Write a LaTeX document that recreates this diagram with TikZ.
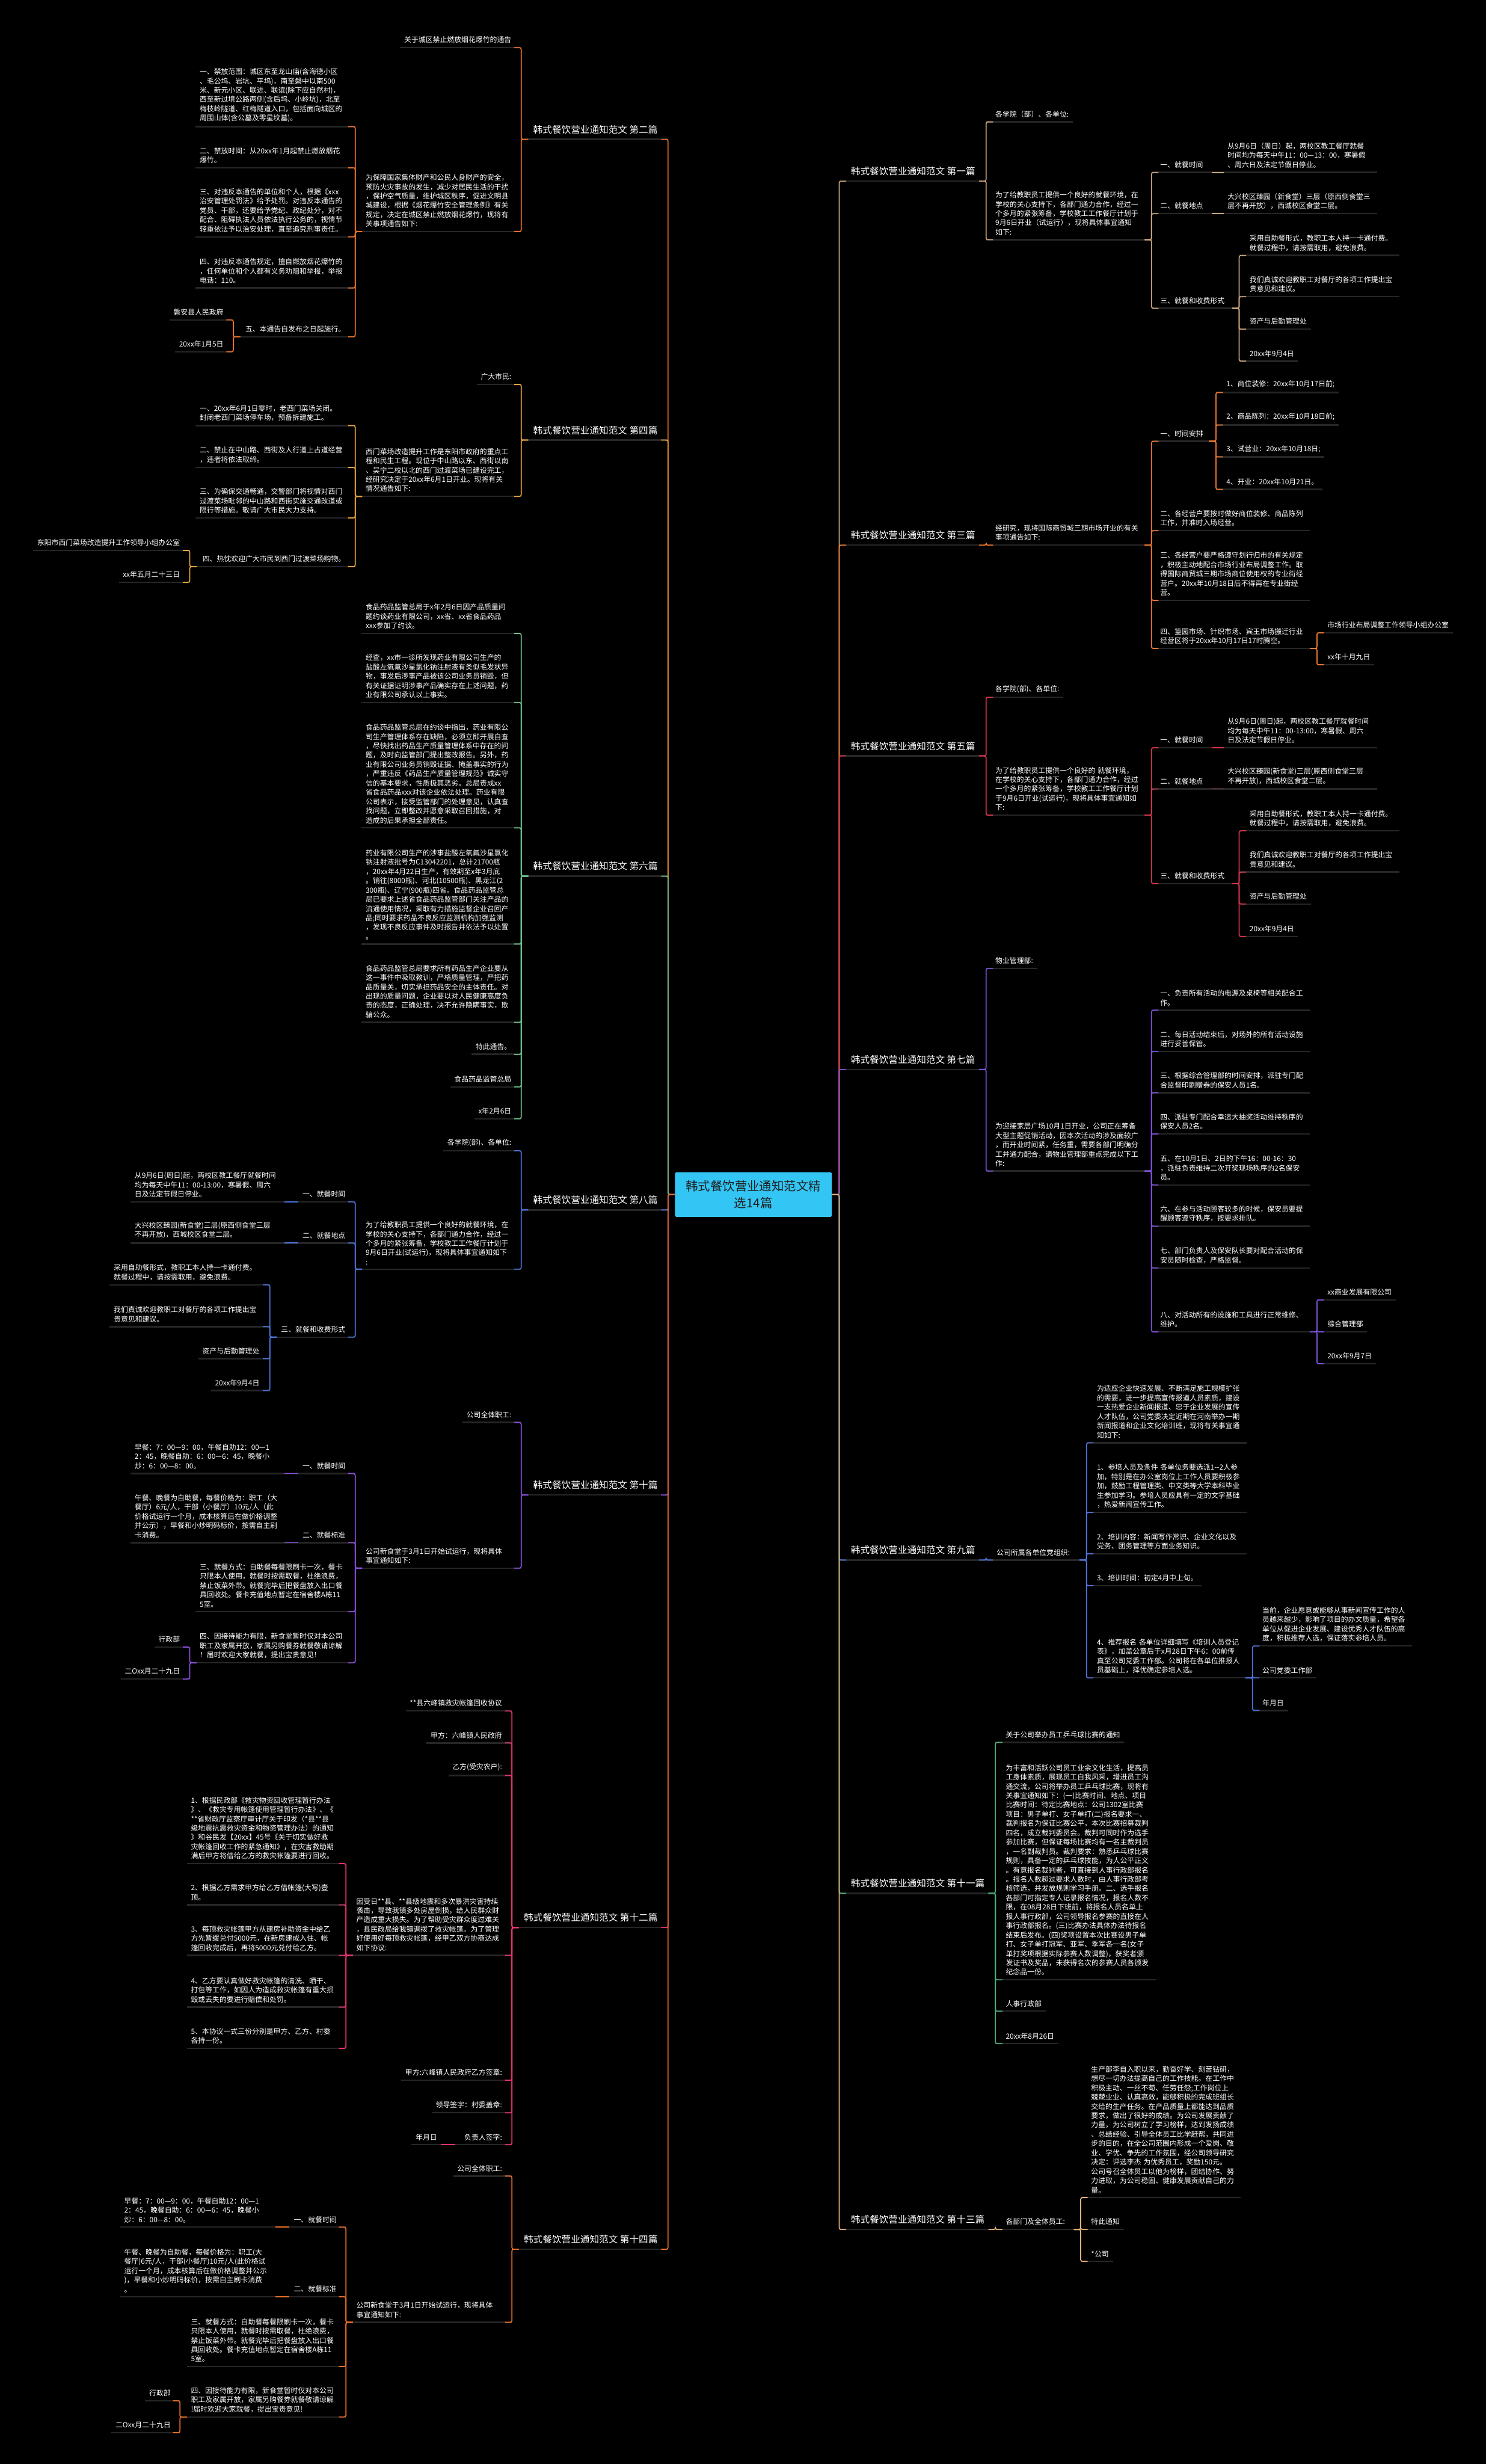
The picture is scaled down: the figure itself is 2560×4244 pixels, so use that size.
\documentclass[tikz,border=0pt]{standalone}
\usepackage{fontspec}
\setmainfont{Noto Sans CJK SC}
\usetikzlibrary{calc}
\definecolor{ulc}{HTML}{262626}
\definecolor{cyanc}{HTML}{33C6F4}
\definecolor{ctrtext}{HTML}{1E1E1E}
\definecolor{c1}{HTML}{C9A57C}
\definecolor{c2}{HTML}{E8702A}
\definecolor{c3}{HTML}{E8762E}
\definecolor{c4}{HTML}{E6A23C}
\definecolor{c5}{HTML}{D6344A}
\definecolor{c6}{HTML}{6CC08A}
\definecolor{c7}{HTML}{7B52D6}
\definecolor{c8}{HTML}{4A72D9}
\definecolor{c9}{HTML}{4F74D9}
\definecolor{c10}{HTML}{8C4FE0}
\definecolor{c11}{HTML}{4FB07A}
\definecolor{c12}{HTML}{E8336F}
\definecolor{c13}{HTML}{E3B27A}
\definecolor{c14}{HTML}{E8702A}
\newcommand\fsz{\fontsize{6.15pt}{8pt}\selectfont}
\newcommand\ftt{\fontsize{8.1pt}{10pt}\selectfont}
\newcommand\fcn{\fontsize{10.6pt}{14.5pt}\selectfont}
\tikzset{
  x=0.5pt, y=-0.5pt,
  txt/.style={inner sep=0pt, outer sep=0pt, text=white, font=\fsz, align=left},
  wide/.style={txt, text width=125.5pt},
  ttl/.style={inner sep=0pt, outer sep=0pt, text=white, font=\ftt, yshift=1pt},
  ul/.style={draw=ulc, line width=1.25pt},
  conn/.style={line width=0.9pt, rounded corners=1.5pt},
  ctrbox/.style={fill=cyanc, text=ctrtext, minimum width=135pt, minimum height=38.5pt,
     inner sep=0pt, align=center, font=\fcn, rounded corners=1pt}
}
% left leaf: name, anchor-x, uy, ulR, style, text
\newcommand\mLN[6]{%
  \node[#5,anchor=south east] (#1) at (#2,#3-7.5) {#6};
  \coordinate (#1-r) at (#4,#3);
  \coordinate (#1-t) at ($(#1.south west)+(-7,0)$);
  \coordinate (#1-l) at (#1-t |- #1-r);
  \draw[ul] (#1-l) -- (#1-r);}
% left parent: name, anchor-x, uy, ulL, ulR, style, text
\newcommand\mLP[7]{%
  \node[#6,anchor=south east] (#1) at (#2,#3-7.5) {#7};
  \coordinate (#1-l) at (#4,#3);
  \coordinate (#1-r) at (#5,#3);
  \draw[ul] (#1-l) -- (#1-r);}
% right leaf: name, anchor-x, uy, ulL, style, text
\newcommand\mRN[6]{%
  \node[#5,anchor=south west] (#1) at (#2,#3-7.5) {#6};
  \coordinate (#1-l) at (#4,#3);
  \coordinate (#1-t) at ($(#1.south east)+(7,0)$);
  \coordinate (#1-r) at (#1-t |- #1-l);
  \draw[ul] (#1-l) -- (#1-r);}
% right parent: name, anchor-x, uy, ulL, ulR, style, text
\newcommand\mRP[7]{%
  \node[#6,anchor=south west] (#1) at (#2,#3-7.5) {#7};
  \coordinate (#1-l) at (#4,#3);
  \coordinate (#1-r) at (#5,#3);
  \draw[ul] (#1-l) -- (#1-r);}
\newcommand\mLk[3]{\draw[conn,#1] ([xshift=6pt]#2-l) -- (#2-l) |- ([xshift=-6pt]#3-r);}
\newcommand\mRk[3]{\draw[conn,#1] ([xshift=-6pt]#2-r) -- (#2-r) |- ([xshift=6pt]#3-l);}
\newcommand\mLs[3]{\draw[conn,#1] (#2-l) -- (#3-r);}
\newcommand\mRs[3]{\draw[conn,#1] (#2-r) -- (#3-l);}
\begin{document}
\begin{tikzpicture}
\fill[black] (0,0) rectangle (2560,4244);
\useasboundingbox (0,0) rectangle (2560,4244);

\node[ctrbox] (ctr) at (1298,2057.5) {韩式餐饮营业通知范文精\\选14篇};

% ===================== LEFT =====================
% 第二篇
\mLP{L2}{1133}{240}{898}{1151}{ttl}{韩式餐饮营业通知范文 第二篇}
\mLN{L2a}{881}{82}{898}{txt}{关于城区禁止燃放烟花爆竹的通告}
\mLP{L2b}{881}{399}{612}{898}{wide}{为保障国家集体财产和公民人身财产的安全，\\预防火灾事故的发生，减少对居民生活的干扰\\，保护空气质量，维护城区秩序，促进文明县\\城建设，根据《烟花爆竹安全管理条例》有关\\规定，决定在城区禁止燃放烟花爆竹，现将有\\关事项通告如下:}
\mLN{L2b1}{595}{218}{612}{wide}{一、禁放范围：城区东至龙山庙(含海德小区\\、毛公坞、岩坑、平坞)，南至磐中以南500\\米、新元小区、联进、联谊(除下应自然村)，\\西至新过境公路两侧(含后坞、小岭坑)，北至\\梅枝岭隧道、红梅隧道入口，包括面向城区的\\周围山体(含公墓及零星坟墓)。}
\mLN{L2b2}{595}{289}{612}{wide}{二、禁放时间：从20xx年1月起禁止燃放烟花\\爆竹。}
\mLN{L2b3}{595}{408}{612}{wide}{三、对违反本通告的单位和个人，根据《xxx\\治安管理处罚法》给予处罚。对违反本通告的\\党员、干部，还要给予党纪、政纪处分，对不\\配合、阻碍执法人员依法执行公务的，视情节\\轻重依法予以治安处理，直至追究刑事责任。}
\mLN{L2b4}{595}{496}{612}{wide}{四、对违反本通告规定，擅自燃放烟花爆竹的\\，任何单位和个人都有义务劝阻和举报，举报\\电话：110。}
\mLP{L2b5}{595}{580}{402}{612}{txt}{五、本通告自发布之日起施行。}
\mLN{L2b5a}{385}{551}{402}{txt}{磐安县人民政府}
\mLN{L2b5b}{385}{606}{402}{txt}{20xx年1月5日}

% 第四篇
\mLP{L4}{1133}{758}{898}{1151}{ttl}{韩式餐饮营业通知范文 第四篇}
\mLN{L4a}{881}{662}{898}{txt}{广大市民:}
\mLP{L4b}{881}{855}{612}{898}{wide}{西门菜场改造提升工作是东阳市政府的重点工\\程和民生工程。现位于中山路以东、西街以南\\、吴宁二校以北的西门过渡菜场已建设完工，\\经研究决定于20xx年6月1日开业。现将有关\\情况通告如下:}
\mLN{L4b1}{595}{733}{612}{wide}{一、20xx年6月1日零时，老西门菜场关闭。\\封闭老西门菜场停车场，预备拆建施工。}
\mLN{L4b2}{595}{805}{612}{wide}{二、禁止在中山路、西街及人行道上占道经营\\，违者将依法取缔。}
\mLN{L4b3}{595}{892}{612}{wide}{三、为确保交通畅通，交警部门将视情对西门\\过渡菜场毗邻的中山路和西街实施交通改道或\\限行等措施。敬请广大市民大力支持。}
\mLP{L4b4}{595}{976}{327}{612}{txt}{四、热忱欢迎广大市民到西门过渡菜场购物。}
\mLN{L4b4a}{310}{948}{327}{txt}{东阳市西门菜场改造提升工作领导小组办公室}
\mLN{L4b4b}{310}{1003}{327}{txt}{xx年五月二十三日}

% 第六篇
\mLP{L6}{1133}{1509}{898}{1151}{ttl}{韩式餐饮营业通知范文 第六篇}
\mLN{L6a}{881}{1091}{898}{wide}{食品药品监管总局于x年2月6日因产品质量问\\题约谈药业有限公司，xx省、xx省食品药品\\xxx参加了约谈。}
\mLN{L6b}{881}{1210}{898}{wide}{经查，xx市一诊所发现药业有限公司生产的\\盐酸左氧氟沙星氯化钠注射液有类似毛发状异\\物，事发后涉事产品被该公司业务员销毁，但\\有关证据证明涉事产品确实存在上述问题，药\\业有限公司承认以上事实。}
\mLN{L6c}{881}{1426}{898}{wide}{食品药品监管总局在约谈中指出，药业有限公\\司生产管理体系存在缺陷，必须立即开展自查\\，尽快找出药品生产质量管理体系中存在的问\\题，及时向监管部门提出整改报告。另外，药\\业有限公司业务员销毁证据、掩盖事实的行为\\，严重违反《药品生产质量管理规范》诚实守\\信的基本要求，性质极其恶劣。总局责成xx\\省食品药品xxx对该企业依法处理。药业有限\\公司表示，接受监管部门的处理意见，认真查\\找问题，立即整改并愿意采取召回措施，对\\造成的后果承担全部责任。}
\mLN{L6d}{881}{1626}{898}{wide}{药业有限公司生产的涉事盐酸左氧氟沙星氯化\\钠注射液批号为C13042201，总计21700瓶\\，20xx年4月22日生产，有效期至x年3月底\\。销往(8000瓶)、河北(10500瓶)、黑龙江(2\\300瓶)、辽宁(900瓶)四省。食品药品监管总\\局已要求上述省食品药品监管部门关注产品的\\流通使用情况，采取有力措施监督企业召回产\\品;同时要求药品不良反应监测机构加强监测\\，发现不良反应事件及时报告并依法予以处置\\。}
\mLN{L6e}{881}{1761}{898}{wide}{食品药品监管总局要求所有药品生产企业要从\\这一事件中吸取教训，严格质量管理，严把药\\品质量关，切实承担药品安全的主体责任。对\\出现的质量问题，企业要以对人民健康高度负\\责的态度，正确处理，决不允许隐瞒事实，欺\\骗公众。}
\mLN{L6f}{881}{1816}{898}{txt}{特此通告。}
\mLN{L6g}{881}{1872}{898}{txt}{食品药品监管总局}
\mLN{L6h}{881}{1927}{898}{txt}{x年2月6日}

% 第八篇
\mLP{L8}{1133}{2084}{898}{1151}{ttl}{韩式餐饮营业通知范文 第八篇}
\mLN{L8a}{881}{1982}{898}{txt}{各学院(部)、各单位:}
\mLP{L8b}{881}{2186}{612}{898}{wide}{为了给教职员工提供一个良好的就餐环境，在\\学校的关心支持下，各部门通力合作，经过一\\个多月的紧张筹备，学校教工工作餐厅计划于\\9月6日开业(试运行)，现将具体事宜通知如下\\:}
\mLP{L8b1}{595}{2070}{490}{612}{txt}{一、就餐时间}
\mLN{L8b1a}{483}{2070}{514}{wide}{从9月6日(周日)起，两校区教工餐厅就餐时间\\均为每天中午11：00-13:00，寒暑假、周六\\日及法定节假日停业。}
\mLP{L8b2}{595}{2141}{490}{612}{txt}{二、就餐地点}
\mLN{L8b2a}{483}{2141}{514}{wide}{大兴校区臻园(新食堂)三层(原西侧食堂三层\\不再开放)，西城校区食堂二层。}
\mLP{L8b3}{595}{2303}{465}{612}{txt}{三、就餐和收费形式}
\mLN{L8b3a}{447}{2213}{465}{wide}{采用自助餐形式，教职工本人持一卡通付费。\\就餐过程中，请按需取用，避免浪费。}
\mLN{L8b3b}{447}{2285}{465}{wide}{我们真诚欢迎教职工对餐厅的各项工作提出宝\\贵意见和建议。}
\mLN{L8b3c}{447}{2340}{465}{txt}{资产与后勤管理处}
\mLN{L8b3d}{447}{2395}{465}{txt}{20xx年9月4日}

% 第十篇
\mLP{L10}{1133}{2575}{898}{1151}{ttl}{韩式餐饮营业通知范文 第十篇}
\mLN{L10a}{881}{2450}{898}{txt}{公司全体职工:}
\mLP{L10b}{881}{2701}{612}{898}{wide}{公司新食堂于3月1日开始试运行，现将具体\\事宜通知如下:}
\mLP{L10b1}{595}{2538}{490}{612}{txt}{一、就餐时间}
\mLN{L10b1a}{483}{2538}{514}{wide}{早餐：7：00—9：00，午餐自助12：00—1\\2：45，晚餐自助：6：00—6：45，晚餐小\\炒：6：00—8：00。}
\mLP{L10b2}{595}{2657}{490}{612}{txt}{二、就餐标准}
\mLN{L10b2a}{483}{2657}{514}{wide}{午餐、晚餐为自助餐，每餐价格为：职工（大\\餐厅）6元/人，干部（小餐厅）10元/人（此\\价格试运行一个月，成本核算后在做价格调整\\并公示），早餐和小炒明码标价，按需自主刷\\卡消费。}
\mLN{L10b3}{595}{2776}{612}{wide}{三、就餐方式：自助餐每餐限刷卡一次，餐卡\\只限本人使用，就餐时按需取餐，杜绝浪费，\\禁止饭菜外带。就餐完毕后把餐盘放入出口餐\\具回收处。餐卡充值地点暂定在宿舍楼A栋11\\5室。}
\mLP{L10b4}{595}{2864}{327}{612}{wide}{四、因接待能力有限，新食堂暂时仅对本公司\\职工及家属开放，家属另购餐券就餐敬请谅解\\！届时欢迎大家就餐，提出宝贵意见！}
\mLN{L10b4a}{310}{2837}{327}{txt}{行政部}
\mLN{L10b4b}{310}{2892}{327}{txt}{二Oxx月二十九日}

% 第十二篇
\mLP{L12}{1133}{3320}{882}{1151}{ttl}{韩式餐饮营业通知范文 第十二篇}
\mLN{L12a}{865}{2947}{882}{txt}{**县六峰镇救灾帐篷回收协议}
\mLN{L12b}{865}{3002}{882}{txt}{甲方：六峰镇人民政府}
\mLN{L12c}{865}{3058}{882}{txt}{乙方(受灾农户):}
\mLP{L12d}{865}{3368}{596}{882}{wide}{因受日**县、**县级地震和多次暴洪灾害持续\\袭击，导致我镇多处房屋倒损，给人民群众财\\产造成重大损失。为了帮助受灾群众度过难关\\，县民政局给我镇调拨了救灾帐篷。为了管理\\好使用好每顶救灾帐篷，经甲乙双方协商达成\\如下协议:}
\mLN{L12d1}{580}{3210}{596}{wide}{1、根据民政部《救灾物资回收管理暂行办法\\》、《救灾专用帐篷使用管理暂行办法》、《\\{}**省财政厅监察厅审计厅关于印发（*县**县\\级地震抗震救灾资金和物资管理办法）的通知\\》和谷民发【20xx】45号《关于切实做好救\\灾帐篷回收工作的紧急通知》，在灾害救助期\\满后甲方将借给乙方的救灾帐篷要进行回收。}
\mLN{L12d2}{580}{3281}{596}{wide}{2、根据乙方需求甲方给乙方借帐篷(大写)壹\\顶。}
\mLN{L12d3}{580}{3368}{596}{wide}{3、每顶救灾帐篷甲方从建房补助资金中给乙\\方先暂缓兑付5000元，在新房建成入住、帐\\篷回收完成后，再将5000元兑付给乙方。}
\mLN{L12d4}{580}{3457}{596}{wide}{4、乙方要认真做好救灾帐篷的清洗、晒干、\\打包等工作，如因人为造成救灾帐篷有重大损\\毁或丢失的要进行赔偿和处罚。}
\mLN{L12d5}{580}{3528}{596}{wide}{5、本协议一式三份分别是甲方、乙方、村委\\各持一份。}
\mLN{L12e}{865}{3583}{882}{txt}{甲方:六峰镇人民政府乙方签章:}
\mLN{L12f}{865}{3639}{882}{txt}{领导签字：村委盖章:}
\mLP{L12g}{865}{3694}{759}{882}{txt}{负责人签字:}
\mLN{L12g1}{753}{3694}{784}{txt}{年月日}

% 第十四篇
\mLP{L14}{1133}{3874}{882}{1151}{ttl}{韩式餐饮营业通知范文 第十四篇}
\mLN{L14a}{865}{3748}{882}{txt}{公司全体职工:}
\mLP{L14b}{865}{4000}{596}{882}{wide}{公司新食堂于3月1日开始试运行，现将具体\\事宜通知如下:}
\mLP{L14b1}{580}{3836}{475}{596}{txt}{一、就餐时间}
\mLN{L14b1a}{465}{3836}{498}{wide}{早餐：7：00—9：00，午餐自助12：00—1\\2：45，晚餐自助：6：00—6：45，晚餐小\\炒：6：00—8：00。}
\mLP{L14b2}{580}{3956}{475}{596}{txt}{二、就餐标准}
\mLN{L14b2a}{465}{3956}{498}{wide}{午餐、晚餐为自助餐，每餐价格为：职工(大\\餐厅)6元/人，干部(小餐厅)10元/人(此价格试\\运行一个月，成本核算后在做价格调整并公示\\)，早餐和小炒明码标价，按需自主刷卡消费\\。}
\mLN{L14b3}{580}{4076}{596}{wide}{三、就餐方式：自助餐每餐限刷卡一次，餐卡\\只限本人使用，就餐时按需取餐，杜绝浪费，\\禁止饭菜外带。就餐完毕后把餐盘放入出口餐\\具回收处。餐卡充值地点暂定在宿舍楼A栋11\\5室。}
\mLP{L14b4}{580}{4163}{310}{596}{wide}{四、因接待能力有限，新食堂暂时仅对本公司\\职工及家属开放，家属另购餐券就餐敬请谅解\\!届时欢迎大家就餐，提出宝贵意见!}
\mLN{L14b4a}{294}{4135}{310}{txt}{行政部}
\mLN{L14b4b}{294}{4190}{310}{txt}{二Oxx月二十九日}

% ===================== RIGHT =====================
% 第一篇
\mRP{R1}{1466}{312}{1446}{1699}{ttl}{韩式餐饮营业通知范文 第一篇}
\mRN{R1a}{1715}{210}{1699}{txt}{各学院（部）、各单位:}
\mRP{R1b}{1715}{413}{1699}{1984}{wide}{为了给教职员工提供一个良好的就餐环境，在\\学校的关心支持下，各部门通力合作，经过一\\个多月的紧张筹备，学校教工工作餐厅计划于\\9月6日开业（试运行），现将具体事宜通知\\如下:}
\mRP{R1b1}{1999}{297}{1984}{2109}{txt}{一、就餐时间}
\mRN{R1b1a}{2115}{297}{2088}{wide}{从9月6日（周日）起，两校区教工餐厅就餐\\时间均为每天中午11：00—13：00，寒暑假\\、周六日及法定节假日停业。}
\mRP{R1b2}{1999}{368}{1984}{2109}{txt}{二、就餐地点}
\mRN{R1b2a}{2115}{368}{2088}{wide}{大兴校区臻园（新食堂）三层（原西侧食堂三\\层不再开放），西城校区食堂二层。}
\mRP{R1b3}{1999}{531}{1984}{2135}{txt}{三、就餐和收费形式}
\mRN{R1b3a}{2153}{440}{2135}{wide}{采用自助餐形式，教职工本人持一卡通付费。\\就餐过程中，请按需取用，避免浪费。}
\mRN{R1b3b}{2153}{511}{2135}{wide}{我们真诚欢迎教职工对餐厅的各项工作提出宝\\贵意见和建议。}
\mRN{R1b3c}{2153}{567}{2135}{txt}{资产与后勤管理处}
\mRN{R1b3d}{2153}{622}{2135}{txt}{20xx年9月4日}

% 第三篇
\mRP{R3}{1466}{939}{1446}{1699}{ttl}{韩式餐饮营业通知范文 第三篇}
\mRP{R3a}{1715}{939}{1699}{1984}{wide}{经研究，现将国际商贸城三期市场开业的有关\\事项通告如下:}
\mRP{R3a1}{1999}{760}{1984}{2095}{txt}{一、时间安排}
\mRN{R3a1a}{2113}{676}{2095}{txt}{1、商位装修：20xx年10月17日前;}
\mRN{R3a1b}{2113}{732}{2095}{txt}{2、商品陈列：20xx年10月18日前;}
\mRN{R3a1c}{2113}{787}{2095}{txt}{3、试营业：20xx年10月18日;}
\mRN{R3a1d}{2113}{843}{2095}{txt}{4、开业：20xx年10月21日。}
\mRN{R3a2}{1999}{914}{1984}{wide}{二、各经营户要按时做好商位装修、商品陈列\\工作，并准时入场经营。}
\mRN{R3a3}{1999}{1034}{1984}{wide}{三、各经营户要严格遵守划行归市的有关规定\\，积极主动地配合市场行业布局调整工作。取\\得国际商贸城三期市场商位使用权的专业街经\\营户。20xx年10月18日后不得再在专业街经\\营。}
\mRP{R3a4}{1999}{1117}{1984}{2269}{wide}{四、篁园市场、针织市场、宾王市场搬迁行业\\经营区将于20xx年10月17日17时腾空。}
\mRN{R3a4a}{2287}{1090}{2269}{txt}{市场行业布局调整工作领导小组办公室}
\mRN{R3a4b}{2287}{1145}{2269}{txt}{xx年十月九日}

% 第五篇
\mRP{R5}{1466}{1302}{1446}{1699}{ttl}{韩式餐饮营业通知范文 第五篇}
\mRN{R5a}{1715}{1201}{1699}{txt}{各学院(部)、各单位:}
\mRP{R5b}{1715}{1404}{1699}{1984}{wide}{为了给教职员工提供一个良好的 就餐环境，\\在学校的关心支持下，各部门通力合作，经过\\一个多月的紧张筹备，学校教工工作餐厅计划\\于9月6日开业(试运行)，现将具体事宜通知如\\下:}
\mRP{R5b1}{1999}{1288}{1984}{2109}{txt}{一、就餐时间}
\mRN{R5b1a}{2115}{1288}{2088}{wide}{从9月6日(周日)起，两校区教工餐厅就餐时间\\均为每天中午11：00-13:00，寒暑假、周六\\日及法定节假日停业。}
\mRP{R5b2}{1999}{1359}{1984}{2109}{txt}{二、就餐地点}
\mRN{R5b2a}{2115}{1359}{2088}{wide}{大兴校区臻园(新食堂)三层(原西侧食堂三层\\不再开放)，西城校区食堂二层。}
\mRP{R5b3}{1999}{1522}{1984}{2135}{txt}{三、就餐和收费形式}
\mRN{R5b3a}{2153}{1431}{2135}{wide}{采用自助餐形式，教职工本人持一卡通付费。\\就餐过程中，请按需取用，避免浪费。}
\mRN{R5b3b}{2153}{1502}{2135}{wide}{我们真诚欢迎教职工对餐厅的各项工作提出宝\\贵意见和建议。}
\mRN{R5b3c}{2153}{1557}{2135}{txt}{资产与后勤管理处}
\mRN{R5b3d}{2153}{1613}{2135}{txt}{20xx年9月4日}

% 第七篇
\mRP{R7}{1466}{1842}{1446}{1699}{ttl}{韩式餐饮营业通知范文 第七篇}
\mRN{R7a}{1715}{1668}{1699}{txt}{物业管理部:}
\mRP{R7b}{1715}{2017}{1699}{1984}{wide}{为迎接家居广场10月1日开业，公司正在筹备\\大型主题促销活动，因本次活动的涉及面较广\\，而开业时间紧，任务重，需要各部门明确分\\工并通力配合，请物业管理部重点完成以下工\\作:}
\mRN{R7b1}{1999}{1740}{1984}{wide}{一、负责所有活动的电源及桌椅等相关配合工\\作。}
\mRN{R7b2}{1999}{1811}{1984}{wide}{二、每日活动结束后，对场外的所有活动设施\\进行妥善保管。}
\mRN{R7b3}{1999}{1882}{1984}{wide}{三、根据综合管理部的时间安排，派驻专门配\\合监督印刷赠券的保安人员1名。}
\mRN{R7b4}{1999}{1953}{1984}{wide}{四、派驻专门配合幸运大抽奖活动维持秩序的\\保安人员2名。}
\mRN{R7b5}{1999}{2041}{1984}{wide}{五、在10月1日、2日的下午16：00-16：30\\，派驻负责维持二次开奖现场秩序的2名保安\\员。}
\mRN{R7b6}{1999}{2112}{1984}{wide}{六、在参与活动顾客较多的时候，保安员要提\\醒顾客遵守秩序，按要求排队。}
\mRN{R7b7}{1999}{2184}{1984}{wide}{七、部门负责人及保安队长要对配合活动的保\\安员随时检查，严格监督。}
\mRP{R7b8}{1999}{2294}{1984}{2269}{wide}{八、对活动所有的设施和工具进行正常维修、\\维护。}
\mRN{R7b8a}{2287}{2239}{2269}{txt}{xx商业发展有限公司}
\mRN{R7b8b}{2287}{2294}{2269}{txt}{综合管理部}
\mRN{R7b8c}{2287}{2349}{2269}{txt}{20xx年9月7日}

% 第九篇
\mRP{R9}{1466}{2687}{1446}{1699}{ttl}{韩式餐饮营业通知范文 第九篇}
\mRP{R9a}{1717}{2687}{1699}{1872}{txt}{公司所属各单位党组织:}
\mRN{R9a1}{1890}{2485}{1872}{wide}{为适应企业快速发展、不断满足施工规模扩张\\的需要，进一步提高宣传报道人员素质，建设\\一支热爱企业新闻报道、忠于企业发展的宣传\\人才队伍，公司党委决定近期在河南举办一期\\新闻报道和企业文化培训班，现将有关事宜通\\知如下:}
\mRN{R9a2}{1890}{2605}{1872}{wide}{1、参培人员及条件 各单位务要选派1{-}{-}2人参\\加，特别是在办公室岗位上工作人员要积极参\\加，鼓励工程管理类、中文类等大学本科毕业\\生参加学习。参培人员应具有一定的文字基础\\，热爱新闻宣传工作。}
\mRN{R9a3}{1890}{2676}{1872}{wide}{2、培训内容：新闻写作常识、企业文化以及\\党务、团务管理等方面业务知识。}
\mRN{R9a4}{1890}{2731}{1872}{txt}{3、培训时间：初定4月中上旬。}
\mRP{R9a5}{1890}{2890}{1872}{2158}{wide}{4、推荐报名 各单位详细填写《培训人员登记\\表》，加盖公章后于x月28日下午6：00前传\\真至公司党委工作部。公司将在各单位推报人\\员基础上，择优确定参培人选。}
\mRN{R9a5a}{2175}{2835}{2158}{wide}{当前，企业愿意或能够从事新闻宣传工作的人\\员越来越少，影响了项目的办文质量，希望各\\单位从促进企业发展、建设优秀人才队伍的高\\度，积极推荐人选，保证落实参培人员。}
\mRN{R9a5b}{2175}{2890}{2158}{txt}{公司党委工作部}
\mRN{R9a5c}{2175}{2946}{2158}{txt}{年月日}

% 第十一篇
\mRP{R11}{1466}{3261}{1446}{1715}{ttl}{韩式餐饮营业通知范文 第十一篇}
\mRN{R11a}{1733}{3001}{1715}{txt}{关于公司举办员工乒乓球比赛的通知}
\mRN{R11b}{1733}{3410}{1715}{wide}{为丰富和活跃公司员工业余文化生活，提高员\\工身体素质，展现员工自我风采，增进员工沟\\通交流，公司将举办员工乒乓球比赛，现将有\\关事宜通知如下：(一)比赛时间、地点、项目\\比赛时间：待定比赛地点：公司1302室比赛\\项目：男子单打、女子单打(二)报名要求一、\\裁判报名为保证比赛公平，本次比赛招募裁判\\四名，成立裁判委员会。裁判可同时作为选手\\参加比赛，但保证每场比赛均有一名主裁判员\\，一名副裁判员。裁判要求：熟悉乒乓球比赛\\规则，具备一定的乒乓球技能，为人公平正义\\。有意报名裁判者，可直接到人事行政部报名\\。报名人数超过要求人数时，由人事行政部考\\核筛选，并发放规则学习手册。二、选手报名\\各部门可指定专人记录报名情况，报名人数不\\限，在08月28日下班前，将报名人员名单上\\报人事行政部，公司领导报名参赛的直接在人\\事行政部报名。(三)比赛办法具体办法待报名\\结束后发布。(四)奖项设置本次比赛设男子单\\打、女子单打冠军、亚军、季军各一名(女子\\单打奖项根据实际参赛人数调整)，获奖者颁\\发证书及奖品，未获得名次的参赛人员各颁发\\纪念品一份。}
\mRN{R11c}{1733}{3464}{1715}{txt}{人事行政部}
\mRN{R11d}{1733}{3520}{1715}{txt}{20xx年8月26日}

% 第十三篇
\mRP{R13}{1466}{3840}{1446}{1715}{ttl}{韩式餐饮营业通知范文 第十三篇}
\mRP{R13a}{1733}{3840}{1715}{1862}{txt}{各部门及全体员工:}
\mRN{R13a1}{1880}{3785}{1862}{wide}{生产部李自入职以来，勤奋好学、刻苦钻研，\\想尽一切办法提高自己的工作技能。在工作中\\积极主动、一丝不苟、任劳任怨;工作岗位上\\兢兢业业、认真高效，能够积极的完成班组长\\交给的生产任务。在产品质量上都能达到品质\\要求，做出了很好的成绩。为公司发展贡献了\\力量，为公司树立了学习榜样，达到发扬成绩\\、总结经验、引导全体员工比学赶帮，共同进\\步的目的，在全公司范围内形成一个爱岗、敬\\业、学优、争先的工作氛围，经公司领导研究\\决定：评选李杰 为优秀员工，奖励150元。\\公司号召全体员工以他为榜样，团结协作、努\\力进取，为公司稳固、健康发展贡献自己的力\\量。}
\mRN{R13a2}{1880}{3840}{1862}{txt}{特此通知}
\mRN{R13a3}{1880}{3895}{1862}{txt}{*公司}

% ===================== CONNECTORS =====================
\foreach \n/\c in {L2/c2,L4/c4,L6/c6,L8/c8,L10/c10,L12/c12,L14/c14}
  {\draw[conn,\c] (ctr.west) -| (\n-r) -- ([xshift=-6pt]\n-r);}
\foreach \n/\c in {R1/c1,R3/c3,R5/c5,R7/c7,R9/c9,R11/c11,R13/c13}
  {\draw[conn,\c] (ctr.east) -| (\n-l) -- ([xshift=6pt]\n-l);}

\foreach \ch in {L2a,L2b}{\mLk{c2}{L2}{\ch}}
\foreach \ch in {L2b1,L2b2,L2b3,L2b4,L2b5}{\mLk{c2}{L2b}{\ch}}
\foreach \ch in {L2b5a,L2b5b}{\mLk{c2}{L2b5}{\ch}}

\foreach \ch in {L4a,L4b}{\mLk{c4}{L4}{\ch}}
\foreach \ch in {L4b1,L4b2,L4b3,L4b4}{\mLk{c4}{L4b}{\ch}}
\foreach \ch in {L4b4a,L4b4b}{\mLk{c4}{L4b4}{\ch}}

\foreach \ch in {L6a,L6b,L6c,L6d,L6e,L6f,L6g,L6h}{\mLk{c6}{L6}{\ch}}

\foreach \ch in {L8a,L8b}{\mLk{c8}{L8}{\ch}}
\foreach \ch in {L8b1,L8b2,L8b3}{\mLk{c8}{L8b}{\ch}}
\mLs{c8}{L8b1}{L8b1a}
\mLs{c8}{L8b2}{L8b2a}
\foreach \ch in {L8b3a,L8b3b,L8b3c,L8b3d}{\mLk{c8}{L8b3}{\ch}}

\foreach \ch in {L10a,L10b}{\mLk{c10}{L10}{\ch}}
\foreach \ch in {L10b1,L10b2,L10b3,L10b4}{\mLk{c10}{L10b}{\ch}}
\mLs{c10}{L10b1}{L10b1a}
\mLs{c10}{L10b2}{L10b2a}
\foreach \ch in {L10b4a,L10b4b}{\mLk{c10}{L10b4}{\ch}}

\foreach \ch in {L12a,L12b,L12c,L12d,L12e,L12f,L12g}{\mLk{c12}{L12}{\ch}}
\foreach \ch in {L12d1,L12d2,L12d3,L12d4,L12d5}{\mLk{c12}{L12d}{\ch}}
\mLs{c12}{L12g}{L12g1}

\foreach \ch in {L14a,L14b}{\mLk{c14}{L14}{\ch}}
\foreach \ch in {L14b1,L14b2,L14b3,L14b4}{\mLk{c14}{L14b}{\ch}}
\mLs{c14}{L14b1}{L14b1a}
\mLs{c14}{L14b2}{L14b2a}
\foreach \ch in {L14b4a,L14b4b}{\mLk{c14}{L14b4}{\ch}}

\foreach \ch in {R1a,R1b}{\mRk{c1}{R1}{\ch}}
\foreach \ch in {R1b1,R1b2,R1b3}{\mRk{c1}{R1b}{\ch}}
\mRs{c1}{R1b1}{R1b1a}
\mRs{c1}{R1b2}{R1b2a}
\foreach \ch in {R1b3a,R1b3b,R1b3c,R1b3d}{\mRk{c1}{R1b3}{\ch}}

\mRk{c3}{R3}{R3a}
\foreach \ch in {R3a1,R3a2,R3a3,R3a4}{\mRk{c3}{R3a}{\ch}}
\foreach \ch in {R3a1a,R3a1b,R3a1c,R3a1d}{\mRk{c3}{R3a1}{\ch}}
\foreach \ch in {R3a4a,R3a4b}{\mRk{c3}{R3a4}{\ch}}

\foreach \ch in {R5a,R5b}{\mRk{c5}{R5}{\ch}}
\foreach \ch in {R5b1,R5b2,R5b3}{\mRk{c5}{R5b}{\ch}}
\mRs{c5}{R5b1}{R5b1a}
\mRs{c5}{R5b2}{R5b2a}
\foreach \ch in {R5b3a,R5b3b,R5b3c,R5b3d}{\mRk{c5}{R5b3}{\ch}}

\foreach \ch in {R7a,R7b}{\mRk{c7}{R7}{\ch}}
\foreach \ch in {R7b1,R7b2,R7b3,R7b4,R7b5,R7b6,R7b7,R7b8}{\mRk{c7}{R7b}{\ch}}
\foreach \ch in {R7b8a,R7b8b,R7b8c}{\mRk{c7}{R7b8}{\ch}}

\mRk{c9}{R9}{R9a}
\foreach \ch in {R9a1,R9a2,R9a3,R9a4,R9a5}{\mRk{c9}{R9a}{\ch}}
\foreach \ch in {R9a5a,R9a5b,R9a5c}{\mRk{c9}{R9a5}{\ch}}

\foreach \ch in {R11a,R11b,R11c,R11d}{\mRk{c11}{R11}{\ch}}

\mRk{c13}{R13}{R13a}
\foreach \ch in {R13a1,R13a2,R13a3}{\mRk{c13}{R13a}{\ch}}

\end{tikzpicture}
\end{document}
